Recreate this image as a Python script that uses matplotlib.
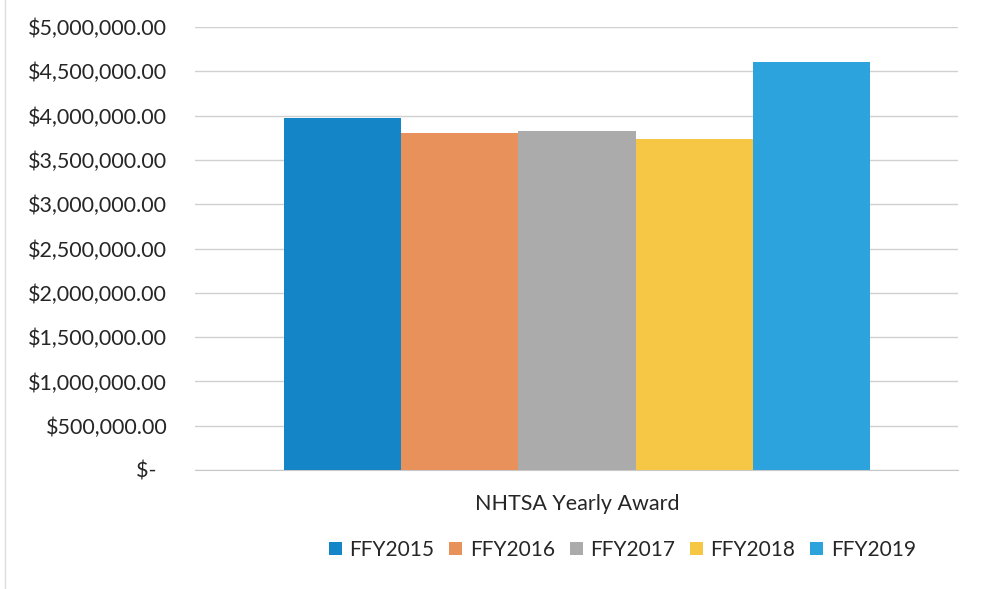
import matplotlib.pyplot as plt
from matplotlib.ticker import FuncFormatter

years = ['FFY2015', 'FFY2016', 'FFY2017', 'FFY2018', 'FFY2019']
awards = [3976000, 3802000, 3822000, 3732000, 4604000]
colors = ['#1485c6', '#e8915a', '#ababab', '#f5c745', '#2da3de']
category = 'NHTSA Yearly Award'

plt.rcParams['font.family'] = ['Lato', 'DejaVu Sans']

fig = plt.figure(figsize=(9.81, 5.89), dpi=100)
ax = fig.add_axes([195 / 981, 1 - 470 / 589, 763 / 981, 443 / 589])

x = list(range(len(years)))
bars = ax.bar(x, awards, width=1.0, color=colors, zorder=3)

ax.set_ylim(0, 5000000)
ax.set_xlim(-1.26, 5.25)
ax.set_yticks(range(0, 5000001, 500000))


def money(v, pos):
    if v == 0:
        return '$-  '
    return '${:,.2f}'.format(v)


ax.yaxis.set_major_formatter(FuncFormatter(money))
ax.tick_params(axis='y', length=0, labelsize=15.5, pad=20, colors='#262626')
ax.set_xticks([2])
ax.set_xticklabels([category])
ax.tick_params(axis='x', length=0, labelsize=15.5, pad=17, colors='#262626')
ax.grid(axis='y', color='#d0d0d0', linewidth=1, zorder=0)
for s in ['top', 'left', 'right']:
    ax.spines[s].set_visible(False)
ax.spines['bottom'].set_color('#c8c8c8')

ax.legend(bars, years, loc='center', bbox_to_anchor=(0.56, -0.18), ncol=5,
          frameon=False, fontsize=15, handlelength=0.62, handleheight=0.62,
          handletextpad=0.36, columnspacing=0.72, labelcolor='#262626')

fig.add_artist(plt.Line2D([5 / 981, 5 / 981], [0, 1], color='#dddddd', linewidth=1))

plt.savefig('out.png', dpi=100)
